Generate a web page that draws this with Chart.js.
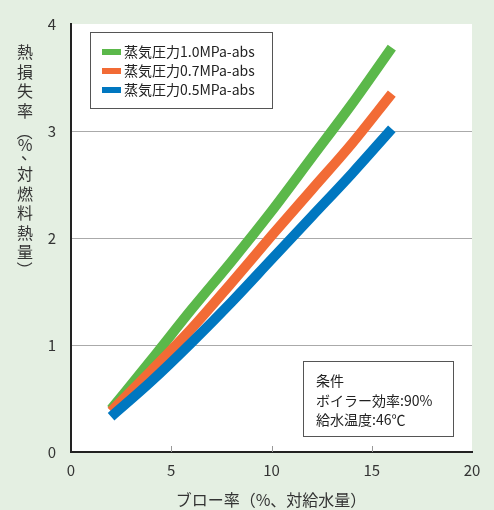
<!DOCTYPE html>
<html><head><meta charset="utf-8">
<script src="https://cdn.jsdelivr.net/npm/chart.js@4/dist/chart.umd.min.js"></script>
<style>html,body{margin:0;padding:0;background:#e4efe2;}#wrap{width:494px;height:510px;}</style>
</head><body><div id="wrap"><canvas id="c" width="494" height="510"></canvas></div>
<script>
const xValues = [2, 4, 6, 8, 10, 12, 14, 16];
const seriesLabels = ['蒸気圧力1.0MPa-abs', '蒸気圧力0.7MPa-abs', '蒸気圧力0.5MPa-abs'];
const p10 = [0.40, 0.86, 1.33, 1.78, 2.25, 2.75, 3.25, 3.78];
const p07 = [0.38, 0.76, 1.15, 1.58, 2.02, 2.45, 2.88, 3.35];
const p05 = [0.33, 0.66, 1.02, 1.40, 1.80, 2.20, 2.60, 3.02];
const seriesColors = ['#5bb84a', '#f26b35', '#0077c0'];
const xTicks = [0, 5, 10, 15, 20];
const yTicks = [0, 1, 2, 3, 4];
const xTitle = 'ブロー率（%、対給水量）';
const yTitleChars = ['熱','損','失','率','（','%','、','対','燃','料','熱','量','）'];
const noteLines = ['条件', 'ボイラー効率:90%', '給水温度:46℃'];

const FONT = '"Noto Sans CJK JP", "Noto Sans", sans-serif';
const mk = (arr) => arr.map((v, i) => ({x: xValues[i], y: v}));

const deco = {
  id: 'deco',
  beforeDraw(chart) {
    const {ctx, chartArea: a} = chart;
    ctx.save();
    ctx.fillStyle = '#e4efe2';
    ctx.fillRect(0, 0, chart.width, chart.height);
    ctx.fillStyle = '#ffffff';
    ctx.fillRect(a.left, a.top, a.right - a.left, a.bottom - a.top);
    ctx.restore();
  },
  afterDraw(chart) {
    const {ctx, chartArea: a, scales} = chart;
    ctx.save();
    // small x ticks
    ctx.strokeStyle = '#999';
    ctx.lineWidth = 1;
    [5, 10, 15].forEach(v => {
      const x = Math.round(scales.x.getPixelForValue(v)) + 0.5;
      ctx.beginPath(); ctx.moveTo(x, a.bottom); ctx.lineTo(x, a.bottom - 6); ctx.stroke();
    });
    // legend box
    ctx.strokeStyle = '#555';
    ctx.lineWidth = 1;
    ctx.strokeRect(90.5, 32.5, 182, 76);
    ctx.font = '14px ' + FONT;
    ctx.textBaseline = 'middle';
    ctx.textAlign = 'left';
    chart.data.datasets.forEach((ds, i) => {
      const y = 52 + i * 19;
      ctx.fillStyle = ds.borderColor;
      ctx.fillRect(102, y - 3, 19, 6);
      ctx.fillStyle = '#222';
      ctx.fillText(ds.label, 124, y);
    });
    // conditions box
    ctx.strokeStyle = '#555';
    ctx.strokeRect(303.5, 361.5, 150, 75);
    ctx.fillStyle = '#222';
    ctx.font = '14px ' + FONT;
    noteLines.forEach((t, i) => ctx.fillText(t, 316, 381 + i * 19.5));
    // y title (vertical)
    ctx.font = '16px ' + FONT;
    ctx.textAlign = 'center';
    ctx.fillStyle = '#333';
    let y = 52;
    yTitleChars.forEach(ch => {
      let step = 19.5;
      if (ch === '（' || ch === '、') step = 15;
      if (ch === '%') step = 14;
      if (ch === '（' || ch === '）') {
        ctx.save();
        ctx.translate(25, y + (ch === '（' ? 2 : -2));
        ctx.rotate(Math.PI / 2);
        ctx.fillText(ch, 0, 0);
        ctx.restore();
      } else if (ch === '、') {
        ctx.fillText(ch, 29, y - 6);
      } else {
        ctx.fillText(ch, 25, y);
      }
      y += step;
    });
    // x title
    ctx.font = '16px ' + FONT;
    ctx.fillText(xTitle, 271, 500);
    ctx.restore();
  }
};

new Chart(document.getElementById('c'), {
  type: 'line',
  data: {
    datasets: [
      {label: seriesLabels[0], data: mk(p10), borderColor: seriesColors[0]},
      {label: seriesLabels[1], data: mk(p07), borderColor: seriesColors[1]},
      {label: seriesLabels[2], data: mk(p05), borderColor: seriesColors[2]}
    ].map((d, i) => Object.assign(d, {
      borderWidth: 10, pointRadius: 0, tension: 0.4, fill: false,
      borderCapStyle: 'butt', borderJoinStyle: 'round', order: 3 - i, cubicInterpolationMode: 'monotone'
    }))
  },
  options: {
    responsive: false,
    animation: false,
    devicePixelRatio: 1,
    layout: {padding: {top: 20, right: 22, left: 0, bottom: 0}},
    plugins: {legend: {display: false}, tooltip: {enabled: false}},
    scales: {
      x: {
        type: 'linear', min: 0, max: 20,
        afterBuildTicks: (s) => { s.ticks = xTicks.map(v => ({value: v})); },
        afterFit: (s) => { s.height = 58; },
        grid: {display: false, drawTicks: false},
        border: {display: true, color: '#222', width: 2},
        ticks: {padding: 9, color: '#333', font: {size: 15, family: FONT}}
      },
      y: {
        type: 'linear', min: 0, max: 4,
        afterBuildTicks: (s) => { s.ticks = yTicks.map(v => ({value: v})); },
        afterFit: (s) => { s.width = 71; },
        grid: {drawTicks: false, color: (c) => (c.tick && (c.tick.value === 0 || c.tick.value === 4)) ? 'rgba(0,0,0,0)' : '#aaaaaa', lineWidth: 1},
        border: {display: true, color: '#222', width: 2},
        ticks: {padding: 15, color: '#333', font: {size: 15, family: FONT}}
      }
    }
  },
  plugins: [deco]
});
</script></body></html>
